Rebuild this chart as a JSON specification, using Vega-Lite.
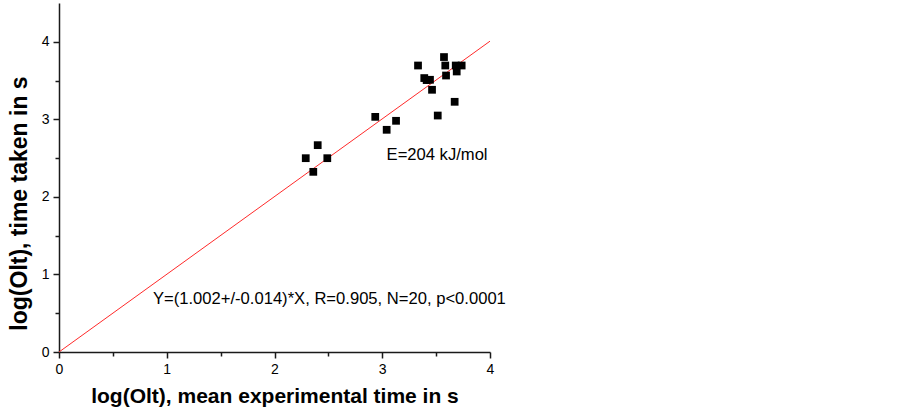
{
  "$schema": "https://vega.github.io/schema/vega-lite/v6.json",
  "width": 431,
  "height": 349,
  "autosize": {"type": "none"},
  "padding": {"left": 59, "top": 3, "right": 412, "bottom": 58},
  "background": "white",
  "config": {
    "view": {"stroke": null},
    "font": "Liberation Sans",
    "axis": {
      "domainColor": "#1a1a1a",
      "domainWidth": 1.5,
      "tickColor": "#1a1a1a",
      "tickWidth": 1.5,
      "grid": false,
      "labelFont": "Liberation Sans",
      "labelFontSize": 14,
      "labelColor": "black",
      "labelFlush": false,
      "titleFont": "Liberation Sans",
      "titleFontSize": 21,
      "titleFontWeight": "bold",
      "titleColor": "black"
    }
  },
  "datasets": {
    "points": [
      {"x": 3.332, "y": 3.694},
      {"x": 3.573, "y": 3.803},
      {"x": 3.585, "y": 3.694},
      {"x": 3.682, "y": 3.694},
      {"x": 3.737, "y": 3.694},
      {"x": 3.691, "y": 3.617},
      {"x": 3.592, "y": 3.565},
      {"x": 3.390, "y": 3.532},
      {"x": 3.412, "y": 3.506},
      {"x": 3.443, "y": 3.510},
      {"x": 3.462, "y": 3.381},
      {"x": 3.672, "y": 3.226},
      {"x": 3.515, "y": 3.049},
      {"x": 2.935, "y": 3.032},
      {"x": 3.128, "y": 2.981},
      {"x": 3.041, "y": 2.865},
      {"x": 2.401, "y": 2.667},
      {"x": 2.290, "y": 2.499},
      {"x": 2.490, "y": 2.499},
      {"x": 2.360, "y": 2.323}
    ],
    "fit": [
      {"x": 0, "y": 0},
      {"x": 4, "y": 4.008}
    ],
    "notes": [
      {"x": 3.04, "y": 2.54, "text": "E=204 kJ/mol"},
      {"x": 0.872, "y": 0.684, "text": "Y=(1.002+/-0.014)*X, R=0.905, N=20, p<0.0001"}
    ]
  },
  "layer": [
    {
      "data": {"name": "fit"},
      "mark": {"type": "line", "color": "#ff2a2a", "strokeWidth": 1, "clip": true},
      "encoding": {
        "x": {
          "field": "x", "type": "quantitative",
          "scale": {"domain": [0, 4], "nice": false, "zero": false},
          "axis": {
            "title": "log(Olt), mean experimental time in s",
            "values": [0, 0.5, 1, 1.5, 2, 2.5, 3, 3.5, 4],
            "labelExpr": "datum.value % 1 === 0 ? format(datum.value, 'd') : ''",
            "tickSize": {"condition": {"test": "datum.value % 1 === 0", "value": 6}, "value": 4},
            "labelPadding": 4,
            "titlePadding": 9
          }
        },
        "y": {
          "field": "y", "type": "quantitative",
          "scale": {"domain": [0, 4.5], "nice": false, "zero": false},
          "axis": {
            "title": "log(Olt), time taken in s",
            "titleFontSize": 23,
            "titleX": -28,
            "titleY": 200,
            "values": [0, 0.5, 1, 1.5, 2, 2.5, 3, 3.5, 4],
            "labelExpr": "datum.value % 1 === 0 ? format(datum.value, 'd') : ''",
            "tickSize": {"condition": {"test": "datum.value % 1 === 0", "value": 6}, "value": 4},
            "labelPadding": 4
          }
        }
      }
    },
    {
      "data": {"name": "points"},
      "mark": {"type": "point", "shape": "square", "filled": true, "color": "black", "size": 60, "opacity": 1},
      "encoding": {
        "x": {"field": "x", "type": "quantitative"},
        "y": {"field": "y", "type": "quantitative"}
      }
    },
    {
      "data": {"name": "notes"},
      "mark": {"type": "text", "align": "left", "baseline": "middle", "fontSize": 16.6, "font": "Liberation Sans", "color": "black"},
      "encoding": {
        "x": {"field": "x", "type": "quantitative"},
        "y": {"field": "y", "type": "quantitative"},
        "text": {"field": "text"}
      }
    }
  ]
}
